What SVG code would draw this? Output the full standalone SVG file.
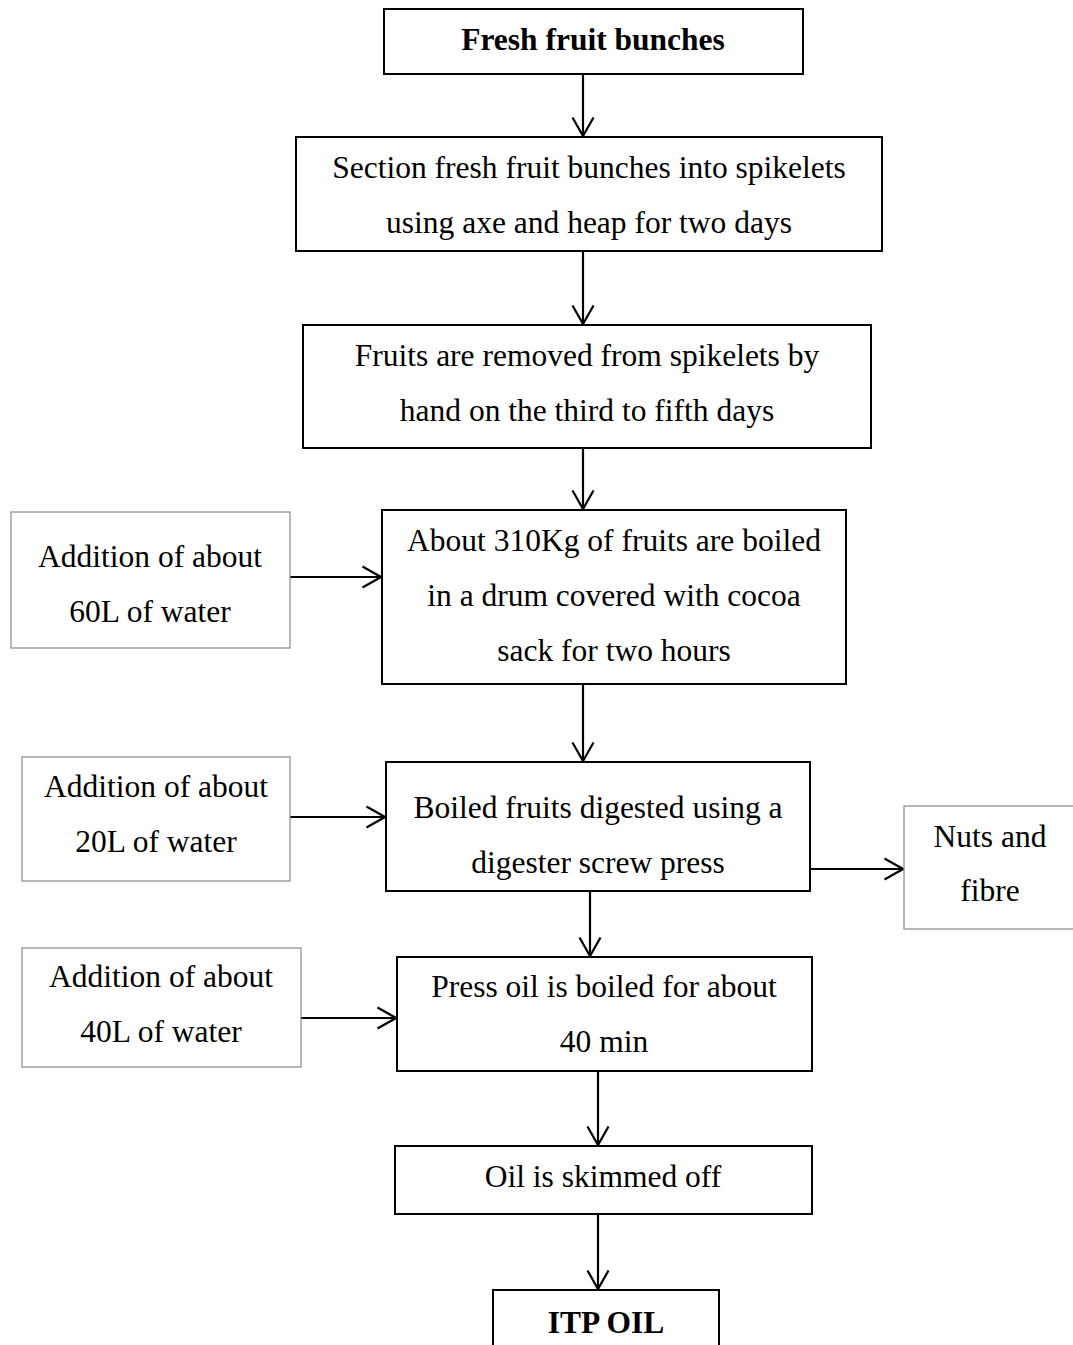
<svg xmlns="http://www.w3.org/2000/svg" width="1073" height="1345" viewBox="0 0 1073 1345">
<style>
.main{fill:#fff;stroke:#000;stroke-width:2}
.side{fill:#fff;stroke:#8a8a8a;stroke-width:1.2}
text{font-family:"Liberation Serif","Times New Roman",serif;font-size:31.5px;fill:#000;text-anchor:middle}
.b{font-weight:bold}
.c{stroke:#000;stroke-width:2.2;fill:none;marker-end:url(#ah)}
</style>
<defs>
<marker id="ah" viewBox="0 0 22 24" refX="20" refY="12" markerWidth="22" markerHeight="24" markerUnits="userSpaceOnUse" orient="auto">
<polyline points="1.5,1.5 20,12 1.5,22.5" fill="none" stroke="#000" stroke-width="2.2"/>
</marker>
</defs>
<rect width="1073" height="1345" fill="#fff"/>
<g id="connectors">
<line class="c" x1="583" y1="74" x2="583" y2="136"/>
<line class="c" x1="583" y1="251" x2="583" y2="324"/>
<line class="c" x1="583" y1="448" x2="583" y2="509"/>
<line class="c" x1="290" y1="577" x2="381" y2="577"/>
<line class="c" x1="583" y1="684" x2="583" y2="761"/>
<line class="c" x1="290" y1="817" x2="385" y2="817"/>
<line class="c" x1="810" y1="869" x2="903" y2="869"/>
<line class="c" x1="590" y1="891" x2="590" y2="956"/>
<line class="c" x1="301" y1="1018" x2="396" y2="1018"/>
<line class="c" x1="598" y1="1071" x2="598" y2="1145"/>
<line class="c" x1="598" y1="1214" x2="598" y2="1289"/>
</g>
<g id="n1"><rect class="main" x="384" y="9" width="419" height="65"/><text class="b" x="593" y="50">Fresh fruit bunches</text></g>
<g id="n2"><rect class="main" x="296" y="137" width="586" height="114"/><text x="589" y="178">Section fresh fruit bunches into spikelets</text><text x="589" y="233">using axe and heap for two days</text></g>
<g id="n3"><rect class="main" x="303" y="325" width="568" height="123"/><text x="587" y="366">Fruits are removed from spikelets by</text><text x="587" y="421">hand on the third to fifth days</text></g>
<g id="n4"><rect class="main" x="382" y="510" width="464" height="174"/><text x="614" y="551">About 310Kg of fruits are boiled</text><text x="614" y="606">in a drum covered with cocoa</text><text x="614" y="661">sack for two hours</text></g>
<g id="s1"><rect class="side" x="11" y="512" width="279" height="136"/><text x="150" y="567">Addition of about</text><text x="150" y="622">60L of water</text></g>
<g id="n5"><rect class="main" x="386" y="762" width="424" height="129"/><text x="598" y="818">Boiled fruits digested using a</text><text x="598" y="873">digester screw press</text></g>
<g id="s2"><rect class="side" x="22" y="757" width="268" height="124"/><text x="156" y="797">Addition of about</text><text x="156" y="852">20L of water</text></g>
<g id="s3"><rect class="side" x="904" y="806" width="175" height="123"/><text x="990" y="847">Nuts and</text><text x="990" y="901">fibre</text></g>
<g id="n6"><rect class="main" x="397" y="957" width="415" height="114"/><text x="604" y="997">Press oil is boiled for about</text><text x="604" y="1052">40 min</text></g>
<g id="s4"><rect class="side" x="22" y="948" width="279" height="119"/><text x="161" y="987">Addition of about</text><text x="161" y="1042">40L of water</text></g>
<g id="n7"><rect class="main" x="395" y="1146" width="417" height="68"/><text x="603" y="1187">Oil is skimmed off</text></g>
<g id="n8"><rect class="main" x="493" y="1290" width="226" height="70"/><text class="b" x="606" y="1333">ITP OIL</text></g>
</svg>
